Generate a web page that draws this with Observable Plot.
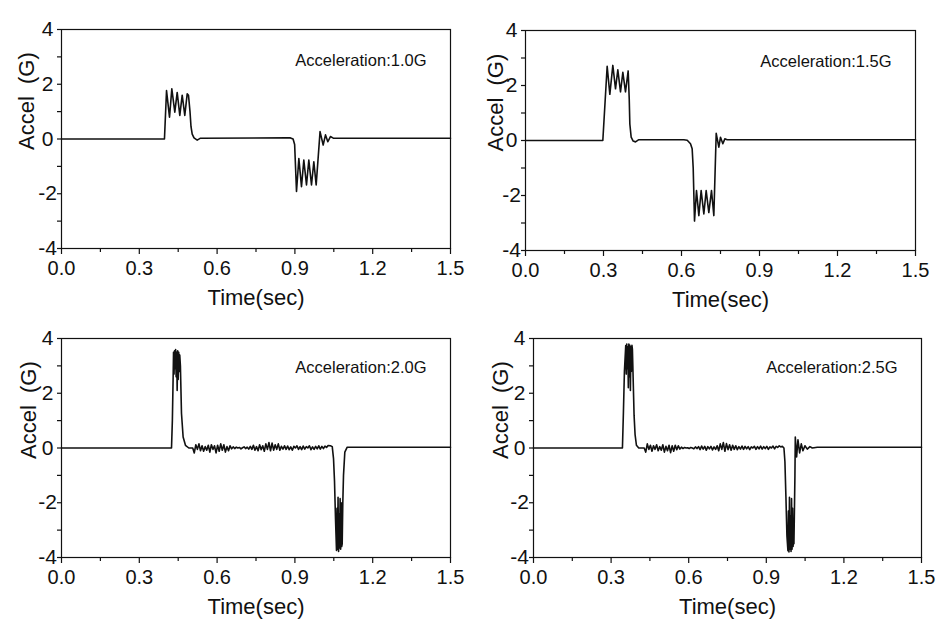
<!DOCTYPE html>
<html>
<head>
<meta charset="utf-8">
<script src="https://cdn.jsdelivr.net/npm/d3@7"></script>
<script src="https://cdn.jsdelivr.net/npm/@observablehq/plot@0.6"></script>
<style>
  html, body { margin: 0; padding: 0; background: #fff; }
  #wrap { position: relative; width: 941px; height: 630px; background: #fff; }
  .panel { position: absolute; }
</style>
</head>
<body>
<div id="wrap"></div>
<script>
// ---- axis ticks & labels ----
const xTicks = [0, 0.3, 0.6, 0.9, 1.2, 1.5];
const xMinor = [0.15, 0.45, 0.75, 1.05, 1.35];
const yTicks = [-4, -2, 0, 2, 4];
const yMinor = [-3, -1, 1, 3];
const panelLabels = ["Acceleration:1.0G", "Acceleration:1.5G", "Acceleration:2.0G", "Acceleration:2.5G"];
const xTitle = "Time(sec)";
const yTitle = "Accel\u00a0 (G)";

// ---- Panel 1 (1.0G) ----
const t1 = [0, 0.397, 0.405, 0.4165, 0.4254, 0.4369, 0.4461, 0.4562, 0.4654, 0.4754, 0.4847, 0.4897, 0.4955, 0.4994, 0.504, 0.511, 0.5233, 0.536, 0.87, 0.883, 0.893, 0.899, 0.9062, 0.9152, 0.9254, 0.9344, 0.9447, 0.9537, 0.964, 0.973, 0.982, 0.997, 1.009, 1.018, 1.027, 1.037, 1.048, 1.5];
const a1 = [0, 0, 1.77, 0.8, 1.83, 0.98, 1.7, 0.86, 1.6, 0.86, 1.65, 1.6, 1.0, 0.45, 0.18, 0.04, -0.04, 0.03, 0.04, 0.04, 0.0, -0.2, -1.92, -0.71, -1.74, -0.77, -1.68, -0.77, -1.68, -0.83, -1.68, 0.27, -0.22, 0.15, -0.1, 0.09, 0.03, 0.03];

// ---- Panel 2 (1.5G) ----
const t2 = [0, 0.2974, 0.3141, 0.3244, 0.3359, 0.3462, 0.3551, 0.3654, 0.3744, 0.3846, 0.3949, 0.399, 0.4013, 0.4064, 0.4141, 0.4231, 0.4359, 0.609, 0.622, 0.6346, 0.641, 0.645, 0.65, 0.6577, 0.6667, 0.6756, 0.6859, 0.6949, 0.7051, 0.7154, 0.7244, 0.7335, 0.7436, 0.75, 0.759, 0.7667, 0.7756, 1.5];
const a2 = [0, 0, 2.7, 1.68, 2.73, 1.88, 2.57, 1.77, 2.48, 1.77, 2.53, 1.5, 0.6, 0.12, -0.02, -0.05, 0.03, 0.03, 0.01, -0.12, -0.3, -1.0, -2.93, -1.82, -2.73, -1.82, -2.67, -1.82, -2.62, -1.82, -2.73, 0.26, -0.24, 0.12, -0.12, 0.06, 0.03, 0.03];

// ---- Panel 3 (2.0G) ----
const t3a = [0, 0.4242, 0.4275, 0.4305, 0.432, 0.434, 0.436, 0.438, 0.44, 0.442, 0.444, 0.446, 0.448, 0.45, 0.452, 0.454, 0.456, 0.4585, 0.4627, 0.469, 0.478, 0.491, 0.506];
const a3a = [0, 0, 1.0, 2.6, 3.5, 2.7, 3.55, 2.9, 3.6, 2.6, 3.5, 2.1, 3.55, 2.5, 3.5, 2.8, 3.4, 3.0, 1.26, 0.4, 0.1, 0.0, 0.0];
const noise3Start = 0.512, noise3Step = 0.006;
const noise3 = [-0.18, 0.12, -0.05, 0.15, -0.1, 0.08, -0.12, 0.05, -0.08, 0.1, -0.15, 0.12, -0.05, 0.08, -0.18, 0.1, -0.12, 0.15, -0.08, 0.12, -0.15, 0.05, -0.1, 0.08, -0.03, 0.04, -0.02, 0.03, 0.0, 0.02, -0.03, 0.01, 0.04, -0.02, 0.03, -0.04, 0.06, -0.05, 0.1, -0.08, 0.05, -0.1, 0.12, -0.06, 0.08, -0.12, 0.15, -0.05, 0.2, -0.1, 0.18, -0.08, 0.12, -0.05, 0.15, -0.08, 0.06, -0.04, 0.08, -0.05, 0.07, -0.06, 0.04, -0.08, 0.06, 0.0, 0.08, -0.05, 0.05, -0.06, 0.07, -0.04, 0.05, 0.0, 0.08, -0.06, 0.04, -0.05, 0.06, -0.03, 0.08, -0.04, 0.06, -0.02, 0.07, 0.02, 0.09];
const t3b = [1.037, 1.044, 1.049, 1.0527, 1.0566, 1.0604, 1.0624, 1.0644, 1.0664, 1.0684, 1.0704, 1.0724, 1.0744, 1.0764, 1.0784, 1.0804, 1.0824, 1.0847, 1.0874, 1.0925, 1.1017, 1.5];
const a3b = [0.08, 0.05, -0.4, -1.2, -2.6, -3.74, -2.2, -3.7, -1.8, -3.78, -2.4, -3.65, -1.85, -3.7, -2.0, -3.6, -3.5, -2.0, -1.0, -0.15, 0.03, 0.03];

// ---- Panel 4 (2.5G) ----
const t4a = [0, 0.3438, 0.3476, 0.3515, 0.3566, 0.3586, 0.3606, 0.3626, 0.3646, 0.3666, 0.3686, 0.3706, 0.3726, 0.3746, 0.3766, 0.3786, 0.3806, 0.3824, 0.3856, 0.3888, 0.3926, 0.3979, 0.4069, 0.428];
const a4a = [0, 0, 1.3, 2.8, 3.74, 2.7, 3.8, 2.9, 3.7, 2.2, 3.8, 2.6, 3.75, 2.1, 3.7, 2.8, 3.75, 3.6, 2.4, 1.2, 0.5, 0.1, 0.0, 0.0];
const noise4Start = 0.434, noise4Step = 0.006;
const noise4 = [-0.15, 0.15, -0.05, 0.1, -0.12, 0.08, -0.05, 0.12, -0.1, 0.05, -0.08, 0.12, -0.15, 0.06, -0.1, 0.1, -0.17, 0.08, -0.12, 0.1, -0.06, 0.08, -0.04, 0.03, -0.02, 0.02, 0.0, 0.01, -0.02, 0.02, 0.0, -0.03, 0.04, -0.02, 0.05, -0.06, 0.07, -0.04, 0.06, -0.08, 0.05, -0.03, 0.06, -0.07, 0.04, -0.05, 0.08, -0.1, 0.15, -0.05, 0.2, -0.12, 0.16, -0.06, 0.12, -0.08, 0.1, -0.05, 0.08, -0.06, 0.05, -0.04, 0.07, -0.05, 0.06, -0.03, 0.05, -0.06, 0.04, 0.0, 0.06, -0.05, 0.05, -0.03, 0.07, -0.04, 0.05, -0.02, 0.06, -0.05, 0.04, 0.0, 0.07, -0.03, 0.06, 0.02, 0.08, 0.04];
const t4b = [0.9618, 0.9682, 0.972, 0.9759, 0.9797, 0.9836, 0.9856, 0.9876, 0.9896, 0.9916, 0.9936, 0.9956, 0.9976, 0.9996, 1.0016, 1.0036, 1.0056, 1.0068, 1.0084, 1.0107, 1.0121, 1.0172, 1.0224, 1.0288, 1.0353, 1.0417, 1.0494, 1.0584, 1.0687, 1.0778, 1.0971, 1.5];
const a4b = [0.06, 0.0, -0.5, -1.8, -3.2, -3.75, -2.3, -3.8, -1.8, -3.7, -2.5, -3.78, -1.85, -3.7, -2.2, -3.6, -3.0, -3.5, -2.5, -1.0, 0.4, -0.33, 0.3, -0.18, 0.15, -0.1, 0.08, -0.04, 0.05, 0.0, 0.03, 0.03];

// ---- build point tables ----
const pairs = (ts, as) => ts.map((t, i) => ({t, a: as[i]}));
const sampled = (start, step, as) => as.map((a, i) => ({t: start + i * step, a}));
const series = [
  pairs(t1, a1),
  pairs(t2, a2),
  [...pairs(t3a, a3a), ...sampled(noise3Start, noise3Step, noise3), ...pairs(t3b, a3b)],
  [...pairs(t4a, a4a), ...sampled(noise4Start, noise4Step, noise4), ...pairs(t4b, a4b)]
];

// ---- layout of the four panels ----
const layout = [
  {left: 0,   top: 0,   w: 470, h: 315, ml: 61, mr: 20, mt: 29, mb: 67, labelDy: 25, ytdx: -35},
  {left: 470, top: 0,   w: 471, h: 315, ml: 55, mr: 26, mt: 30, mb: 65, labelDy: 25, ytdx: -30},
  {left: 0,   top: 315, w: 470, h: 315, ml: 61, mr: 20, mt: 23, mb: 73, labelDy: 23, ytdx: -33},
  {left: 470, top: 315, w: 471, h: 315, ml: 63, mr: 20, mt: 23, mb: 73, labelDy: 23, ytdx: -33}
];

const fontFamily = "'Liberation Sans', Arial, Helvetica, sans-serif";
const fmtY = d => (d < 0 ? "-" + Math.abs(d) : String(d));
const ink = "#111";

const wrap = document.getElementById("wrap");
layout.forEach((L, k) => {
  const chart = Plot.plot({
    width: L.w, height: L.h,
    marginLeft: L.ml, marginRight: L.mr, marginTop: L.mt, marginBottom: L.mb,
    x: {domain: [0, 1.5], label: null},
    y: {domain: [-4, 4], label: null},
    style: {fontFamily, color: ink, background: "transparent", overflow: "visible"},
    marks: [
      Plot.axisX(xTicks, {tickSize: 6, tickPadding: 6, tickFormat: d3.format(".1f"), fontSize: 20, label: null, stroke: ink, strokeWidth: 1.2}),
      Plot.axisX(xMinor, {tickSize: 4, tickFormat: () => "", label: null, stroke: ink, strokeWidth: 1.2}),
      Plot.axisY(yTicks, {tickSize: 4, tickPadding: 10, textAnchor: "middle", tickFormat: fmtY, fontSize: 21, label: null, stroke: ink, strokeWidth: 1.2}),
      Plot.axisY(yMinor, {tickSize: 4, tickFormat: () => "", label: null, stroke: ink, strokeWidth: 1.2}),
      Plot.line(series[k], {x: "t", y: "a", stroke: ink, strokeWidth: 1.6}),
      Plot.frame({stroke: ink, strokeWidth: 1.2}),
      Plot.text([panelLabels[k]], {text: d => d, frameAnchor: "top-right", textAnchor: "end", dx: -24, dy: L.labelDy, fontSize: 16.5, fill: ink}),
      Plot.text([xTitle], {text: d => d, frameAnchor: "bottom", dy: 56, fontSize: 22, fill: ink}),
      Plot.text([yTitle], {text: d => d, frameAnchor: "left", rotate: -90, dx: L.ytdx, dy: 11, fontSize: 22, fill: ink})
    ]
  });
  const div = document.createElement("div");
  div.className = "panel";
  div.style.left = L.left + "px";
  div.style.top = L.top + "px";
  div.appendChild(chart);
  wrap.appendChild(div);
});
</script>
</body>
</html>
